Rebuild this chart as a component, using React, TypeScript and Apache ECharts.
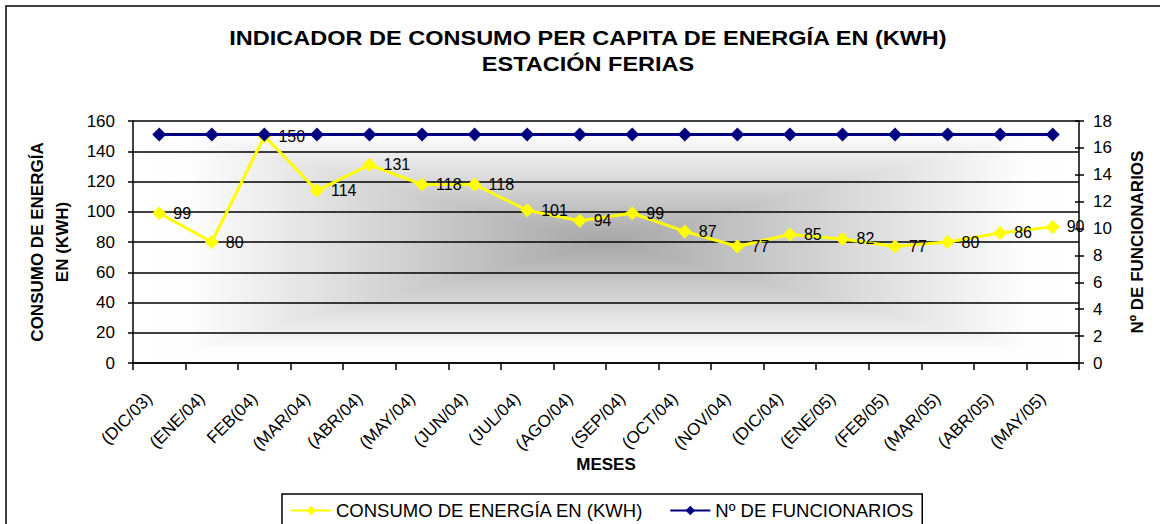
import React, { useEffect, useRef } from 'react';
import * as echarts from 'echarts';

// ---- data ----
const categories = [
  '(DIC/03)', '(ENE/04)', 'FEB(04)', '(MAR/04)', '(ABR/04)', '(MAY/04)',
  '(JUN/04)', '(JUL/04)', '(AGO/04)', '(SEP/04)', '(OCT/04)', '(NOV/04)',
  '(DIC/04)', '(ENE/05)', '(FEB/05)', '(MAR/05)', '(ABR/05)', '(MAY/05)',
];
const consumo = [99, 80, 150, 114, 131, 118, 118, 101, 94, 99, 87, 77, 85, 82, 77, 80, 86, 90];
const funcionarios = [17, 17, 17, 17, 17, 17, 17, 17, 17, 17, 17, 17, 17, 17, 17, 17, 17, 17];
const leftAxisTicks = [0, 20, 40, 60, 80, 100, 120, 140, 160];
const rightAxisTicks = [0, 2, 4, 6, 8, 10, 12, 14, 16, 18];

const titleLines = ['INDICADOR DE CONSUMO PER CAPITA DE ENERGÍA EN (KWH)', 'ESTACIÓN FERIAS'];
const seriesNames = ['CONSUMO DE ENERGÍA EN (KWH)', 'Nº DE FUNCIONARIOS'];

// ---- layout ----
const W = 1160;
const H = 524;
const X0 = 133;
const Y0 = 121;
const X1 = 1079;
const Y1 = 363;
const CX = (X0 + X1) / 2;
const CY = (Y0 + Y1) / 2;
const FONT = '"Liberation Sans", Arial, sans-serif';

const stops = [
  { offset: 0, color: '#ffffff' },
  { offset: 0.12, color: '#fdfdfd' },
  { offset: 1, color: '#a6a6a6' },
];

function tri(points: number[][], x: number, y: number, x2: number, y2: number) {
  const g = new echarts.graphic.LinearGradient(x, y, x2, y2, stops, true);
  return {
    type: 'polygon',
    silent: true,
    z: -5,
    shape: { points },
    style: { fill: g, stroke: g, lineWidth: 0.8 },
  };
}

export default function App() {
  const ref = useRef<HTMLDivElement>(null);

  useEffect(() => {
    if (!ref.current) return;
    const chart = echarts.init(ref.current, undefined, { renderer: 'svg' });
    const axisLineStyle = { color: '#000', width: 1.5 };

    const option: any = {
      animation: false,
      backgroundColor: '#ffffff',
      textStyle: { fontFamily: FONT },
      grid: { left: X0, right: W - X1, top: Y0, bottom: H - Y1, containLabel: false },
      legend: {
        left: 282,
        top: 494,
        orient: 'horizontal',
        itemWidth: 40,
        itemHeight: 12,
        itemGap: 26,
        padding: [7, 9, 14, 8],
        borderColor: '#000',
        borderWidth: 1.5,
        backgroundColor: '#ffffff',
        textStyle: { fontSize: 18.5, color: '#000', fontFamily: FONT },
        data: seriesNames,
      },
      xAxis: {
        type: 'category',
        data: categories,
        boundaryGap: true,
        axisLine: { lineStyle: axisLineStyle },
        axisTick: { show: true, length: 7, lineStyle: axisLineStyle },
        axisLabel: {
          rotate: 45,
          interval: 0,
          fontSize: 17,
          color: '#000',
          margin: 23,
          padding: [0, 14, 0, 0],
          fontFamily: FONT,
        },
        splitLine: { show: false },
        name: 'MESES',
        nameLocation: 'middle',
        nameGap: 90,
        nameTextStyle: { fontSize: 17, fontWeight: 'bold', color: '#000', fontFamily: FONT },
      },
      yAxis: [
        {
          type: 'value',
          position: 'left',
          min: leftAxisTicks[0],
          max: leftAxisTicks[leftAxisTicks.length - 1],
          interval: leftAxisTicks[1] - leftAxisTicks[0],
          axisLine: { show: true, lineStyle: axisLineStyle },
          axisTick: { show: true, length: 5, lineStyle: axisLineStyle },
          axisLabel: { fontSize: 17, color: '#000', margin: 18, fontFamily: FONT },
          splitLine: { show: true, lineStyle: { color: '#000', width: 1.5 } },
          name: 'CONSUMO DE ENERGÍA\nEN (KWH)',
          nameLocation: 'middle',
          nameRotate: 90,
          nameGap: 58,
          nameTextStyle: { fontSize: 17, fontWeight: 'bold', color: '#000', lineHeight: 25, fontFamily: FONT },
        },
        {
          type: 'value',
          position: 'right',
          min: rightAxisTicks[0],
          max: rightAxisTicks[rightAxisTicks.length - 1],
          interval: rightAxisTicks[1] - rightAxisTicks[0],
          axisLine: { show: true, lineStyle: axisLineStyle },
          axisTick: { show: true, length: 5, lineStyle: axisLineStyle },
          axisLabel: { fontSize: 17, color: '#000', margin: 14, fontFamily: FONT },
          splitLine: { show: false },
          name: 'Nº DE FUNCIONARIOS',
          nameLocation: 'middle',
          nameRotate: 90,
          nameGap: 50,
          nameTextStyle: { fontSize: 17, fontWeight: 'bold', color: '#000', fontFamily: FONT },
        },
        {
          type: 'value',
          position: 'right',
          min: rightAxisTicks[0],
          max: rightAxisTicks[rightAxisTicks.length - 1],
          interval: rightAxisTicks[1] - rightAxisTicks[0],
          axisLine: { show: false },
          axisTick: { show: true, inside: true, length: 4, lineStyle: axisLineStyle },
          axisLabel: { show: false },
          splitLine: { show: false },
        },
      ],
      series: [
        {
          name: seriesNames[0],
          type: 'line',
          yAxisIndex: 0,
          data: consumo,
          symbol: 'diamond',
          symbolSize: 14,
          lineStyle: { color: '#ffff00', width: 3 },
          itemStyle: { color: '#ffff00' },
          label: {
            show: true,
            position: 'right',
            distance: 7,
            fontSize: 16,
            color: '#000',
            fontFamily: FONT,
          },
          z: 3,
        },
        {
          name: seriesNames[1],
          type: 'line',
          yAxisIndex: 1,
          data: funcionarios,
          symbol: 'diamond',
          symbolSize: 14,
          lineStyle: { color: '#000080', width: 3 },
          itemStyle: { color: '#000080' },
          label: { show: false },
          z: 4,
        },
      ],
      graphic: [
        tri([[X0, Y0], [X1, Y0], [CX, CY]], 0, Y0, 0, CY),
        tri([[X0, Y1], [X1, Y1], [CX, CY]], 0, Y1, 0, CY),
        tri([[X0, Y0], [X0, Y1], [CX, CY]], X0, 0, CX, 0),
        tri([[X1, Y0], [X1, Y1], [CX, CY]], X1, 0, CX, 0),
        {
          type: 'rect',
          silent: true,
          z: 10,
          shape: { x: 6, y: 6, width: 1300, height: 700 },
          style: { fill: 'none', stroke: '#000', lineWidth: 1.5 },
        },
        {
          type: 'text',
          x: 588,
          y: 38,
          scaleX: 1.12,
          z: 10,
          style: {
            text: titleLines[0],
            fontSize: 21,
            fontWeight: 'bold',
            fontFamily: FONT,
            fill: '#000',
            align: 'center',
            verticalAlign: 'middle',
          },
        },
        {
          type: 'text',
          x: 588,
          y: 64,
          scaleX: 1.12,
          z: 10,
          style: {
            text: titleLines[1],
            fontSize: 21,
            fontWeight: 'bold',
            fontFamily: FONT,
            fill: '#000',
            align: 'center',
            verticalAlign: 'middle',
          },
        },
      ],
    };

    chart.setOption(option);
    return () => chart.dispose();
  }, []);

  return (
    <div
      ref={ref}
      style={{ position: 'absolute', left: 0, top: 0, width: W, height: H, background: '#fff' }}
    />
  );
}
